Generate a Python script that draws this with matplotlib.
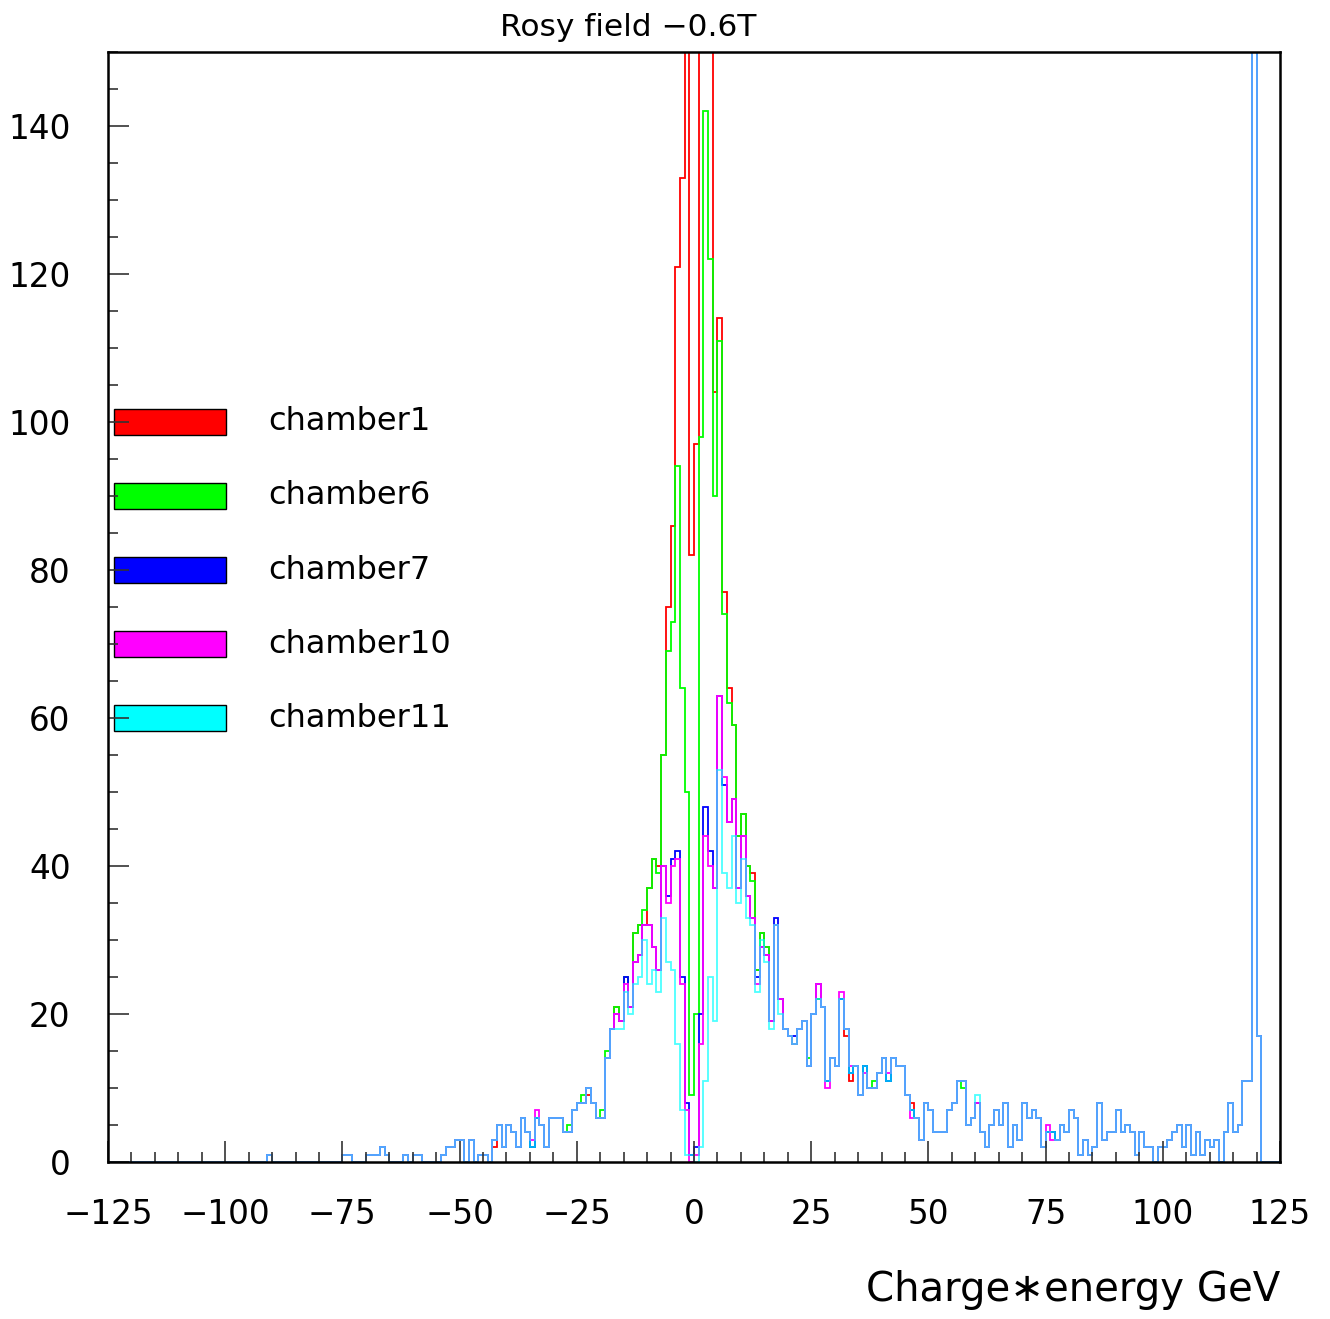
import numpy as np
import matplotlib
matplotlib.use("Agg")
import matplotlib.pyplot as plt
from matplotlib.patches import Rectangle

# 1 GeV bins, -125 ... 125
edges = np.arange(-125, 126)

names = ["chamber1", "chamber6", "chamber7", "chamber10", "chamber11"]
colors = ["#ff0000", "#00ff00", "#0000ff", "#ff00ff", "#00ffff"]

# left tail, same for all chambers, x = -91 ... -21
left_start = -91
left_tail = [1,
             0, 0, 0, 0, 0, 0, 0, 0, 0, 0, 0, 0, 0, 0, 0,
             1, 1, 0, 0, 0,
             1, 1, 1, 2, 1, 0, 0, 0,
             1, 0, 1, 1, 0, 0, 0, 0,
             1, 2, 2, 3, 3, 0, 3, 0, 1, 1, 0,
             3, 5, 2, 5, 4, 2, 6, 4, 2, 6, 5, 2,
             6, 6, 6, 4, 4, 7, 8, 8, 10, 8, 6]

# core of the distribution, x = -20 ... 45 (values above 150 are off scale)
core_start = -20
core_ch1 = [6, 14, 18, 21, 19, 25, 21, 31, 32, 32, 37, 41, 40, 55, 75, 86, 121, 133, 165, 82,
            97, 170, 190, 175, 104, 114, 77, 64, 59, 44, 47, 40, 39, 26, 31, 29, 19, 32, 22, 18,
            17, 16, 18, 19, 13, 20, 22, 21, 11, 14, 13, 22, 17, 11, 13, 9, 13, 10, 10, 12,
            14, 11, 14, 13, 13, 9]
core_ch6 = [7, 15, 18, 21, 19, 25, 21, 31, 32, 34, 37, 41, 39, 55, 69, 73, 94, 64, 50, 9,
            20, 98, 142, 122, 90, 111, 74, 62, 59, 44, 47, 40, 38, 26, 31, 29, 19, 32, 22, 18,
            17, 16, 18, 19, 14, 20, 22, 21, 11, 14, 13, 22, 18, 12, 13, 9, 13, 10, 11, 12,
            14, 11, 14, 13, 13, 9]
core_ch7 = [6, 14, 18, 20, 19, 25, 21, 27, 28, 32, 32, 29, 26, 40, 36, 41, 42, 25, 8, 1,
            2, 20, 48, 42, 37, 63, 51, 46, 49, 37, 44, 36, 33, 25, 29, 28, 19, 33, 22, 18,
            17, 17, 18, 19, 13, 20, 24, 21, 11, 14, 13, 22, 18, 12, 13, 9, 13, 10, 10, 12,
            14, 11, 14, 13, 13, 9]
core_ch10 = [6, 14, 18, 20, 19, 24, 21, 27, 28, 32, 32, 29, 26, 40, 35, 40, 41, 24, 7, 0,
             1, 16, 44, 40, 37, 63, 52, 46, 49, 37, 44, 36, 33, 24, 29, 28, 19, 32, 22, 18,
             17, 16, 18, 19, 13, 20, 24, 21, 10, 14, 13, 23, 18, 13, 13, 9, 12, 10, 10, 12,
             14, 12, 14, 13, 13, 9]
core_ch11 = [6, 14, 18, 18, 18, 23, 20, 24, 25, 30, 24, 26, 23, 33, 27, 26, 16, 7, 1, 1,
             0, 2, 11, 25, 19, 53, 39, 37, 44, 35, 41, 33, 32, 23, 30, 27, 18, 32, 20, 18,
             17, 16, 18, 19, 13, 20, 22, 21, 11, 14, 13, 22, 18, 12, 13, 9, 13, 10, 10, 12,
             14, 11, 14, 13, 13, 9]

# right tail, same for all chambers, x = 46 ... 124 (x = 119 is off scale)
right_start = 46
right_tail = [7, 6, 3, 8, 7, 4, 4, 4, 7, 8, 11, 11, 5, 6, 8, 4, 2, 5, 7, 5,
              8, 2, 5, 3, 8, 6, 7, 6, 2, 4, 4, 3, 5, 4, 7, 6, 1, 3, 1, 2,
              8, 3, 4, 4, 7, 4, 5, 4, 1, 4, 2, 2, 0, 2, 2, 3, 4, 5, 2, 5,
              1, 4, 1, 3, 2, 3, 0, 4, 8, 4, 5, 11, 11, 260, 17, 0, 0, 0, 0]

# small differences in the tails: {x: count}
tail_diff = {
    "chamber1": {-43: 2, -23: 9, 46: 8},
    "chamber6": {-27: 5, -24: 9, 57: 10},
    "chamber7": {},
    "chamber10": {-35: 3, -34: 7, 46: 6, 75: 5, 76: 3},
    "chamber11": {60: 9},
}
cores = [core_ch1, core_ch6, core_ch7, core_ch10, core_ch11]


def build(core, diff):
    c = np.zeros(len(edges) - 1)
    c[left_start + 125:left_start + 125 + len(left_tail)] = left_tail
    c[core_start + 125:core_start + 125 + len(core)] = core
    c[right_start + 125:right_start + 125 + len(right_tail)] = right_tail
    for x, v in diff.items():
        c[x + 125] = v
    return c


fig = plt.figure(figsize=(13.3, 13.19), dpi=100)
ax = fig.add_axes([108 / 1330, 1 - 1162 / 1319, 1172 / 1330, 1110 / 1319])

for name, col, core in zip(names, colors, cores):
    counts = build(core, tail_diff[name])
    a = 0.7 if name == "chamber11" else 1.0
    ax.stairs(counts, edges, color=col, lw=1.3, alpha=a)

ax.set_xlim(-125, 125)
ax.set_ylim(0, 150)
ax.set_xticks(np.arange(-125, 126, 25))
ax.set_xticks(np.arange(-125, 126, 5), minor=True)
ax.set_yticks(np.arange(0, 141, 20))
ax.set_yticks(np.arange(0, 151, 5), minor=True)
ax.tick_params(which="both", direction="in", top=False, right=False, width=1.2,
               labelsize=23.5, color="#333333")
ax.tick_params(which="major", length=15)
ax.tick_params(which="minor", length=7)
ax.tick_params(axis="x", pad=26)
ax.tick_params(axis="y", pad=27)
for s in ax.spines.values():
    s.set_linewidth(1.8)

# legend boxes drawn like the PAW picture
for k, (name, col) in enumerate(zip(names, colors)):
    yc = 0.6667 - k * 0.0667
    ax.add_patch(Rectangle((0.0051, yc - 0.0117), 0.0956, 0.0234, transform=ax.transAxes,
                           facecolor=col, edgecolor="black", lw=1))
    ax.text(0.1365, yc, name, transform=ax.transAxes, fontsize=23, va="center", ha="left")

fig.text(628 / 1330, 1 - 27 / 1319, "Rosy field \u22120.6T", fontsize=22.5, ha="center", va="center")
fig.text(1280 / 1330, 1 - 1290 / 1319, "Charge\u2217energy GeV", fontsize=29, ha="right", va="center")

fig.savefig("out.png", dpi=100)
